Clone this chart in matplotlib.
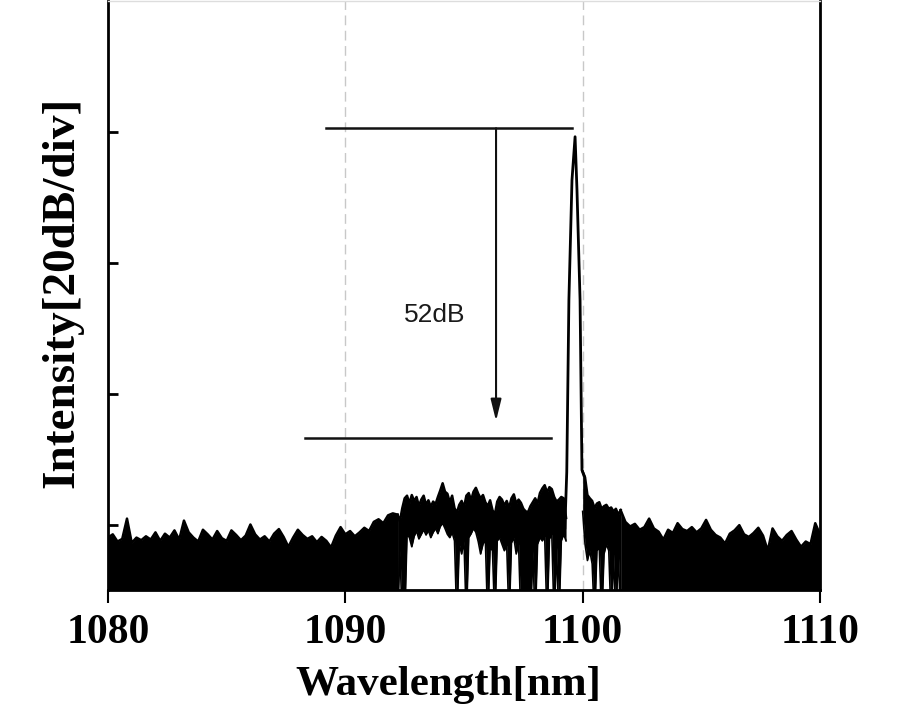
import matplotlib
matplotlib.use("Agg")
import matplotlib.pyplot as plt
import numpy as np

# ---------------- data ----------------
grid_step = 0.1  # nm, sampling used when reading the picture
floor_db = -95.0  # "below the display floor"

# Noise floor left of the signal band (0.2 nm samples from 1080.0 nm), dB
noise_left_start = 1080.0
noise_left = [-82.0, -81.5, -82.6, -82.2, -79.1, -82.8, -82.0, -82.4, -81.8, -82.3,
              -81.2, -82.5, -81.4, -82.0, -80.9, -82.3, -79.4, -81.2, -82.0, -82.6,
              -80.8, -81.5, -82.3, -81.0, -82.1, -82.5, -80.9, -81.6, -82.4, -81.7,
              -80.0, -81.5, -82.3, -81.8, -82.6, -81.4, -80.7, -81.9, -83.4, -82.0,
              -80.8, -81.6, -82.2, -81.8, -82.7, -81.9, -82.5, -83.5, -81.7, -80.4,
              -81.5, -81.0, -81.8, -81.2, -80.5, -81.0, -79.6, -79.2, -79.8, -78.6,
              -78.3, -78.5]

# Noise floor right of the signal band (0.2 nm samples from 1101.6 nm), dB
noise_right_start = 1101.6
noise_right = [-77.8, -79.6, -80.3, -79.9, -80.8, -80.4, -79.1, -80.6, -81.1, -82.3,
               -80.8, -81.3, -79.8, -80.7, -81.0, -80.4, -81.2, -80.6, -79.3, -80.8,
               -81.6, -82.0, -82.9, -81.4, -80.9, -80.1, -81.5, -81.9, -81.3, -80.5,
               -81.7, -84.0, -80.6, -81.8, -82.5, -81.6, -81.0, -82.3, -83.4, -82.6,
               -83.0, -79.8, -81.5]

# Modulated band left of the lasing line (0.1 nm samples from 1092.2 nm):
# upper and lower edge of the dense trace, dB
band_left_start = 1092.2
band_left_top = [-78.5, -79.5, -77.5, -76.0, -75.6, -76.8, -75.5, -76.4, -75.8, -77.2,
                 -76.2, -75.6, -77.0, -76.3, -77.3, -76.5, -76.9, -75.8, -74.8, -73.7,
                 -75.0, -75.3, -76.6, -75.6, -77.5, -78.2, -77.0, -76.4, -77.4, -75.6,
                 -75.2, -76.3, -75.0, -74.4, -75.3, -76.0, -75.5, -76.6, -77.2, -76.3,
                 -77.8, -78.5, -76.5, -75.8, -76.2, -77.1, -76.4, -77.5, -76.0, -75.4,
                 -76.8, -76.2, -76.7, -77.6, -78.0, -78.1, -77.2, -76.6, -76.0, -76.8,
                 -75.2, -74.5, -74.0, -75.1, -74.3, -74.6, -75.8, -76.5, -76.2, -75.8,
                 -76.0, -79.0]
band_left_bottom = [-95.0, -83.9, -95.0, -95.0, -81.5, -82.0, -83.4, -81.8, -81.0, -82.2,
                    -81.5, -80.8, -81.6, -80.9, -82.0, -81.2, -80.6, -81.4, -80.3, -79.8,
                    -80.6, -81.5, -82.0, -81.2, -82.5, -95.0, -83.0, -84.5, -82.5, -95.0,
                    -82.0, -81.4, -80.6, -81.2, -82.6, -84.5, -83.0, -82.3, -95.0, -83.5,
                    -84.0, -95.0, -82.5, -82.0, -83.0, -84.0, -83.2, -95.0, -82.8, -82.0,
                    -84.5, -83.0, -95.0, -95.0, -95.0, -95.0, -95.0, -84.0, -95.0, -83.0,
                    -82.0, -82.5, -81.8, -95.0, -82.2, -81.5, -95.0, -83.5, -95.0, -82.5,
                    -81.5, -82.5]

# Modulated band right of the lasing line (0.1 nm samples from 1100.0 nm), dB
band_right_start = 1100.0
band_right_top = [-71.9, -72.8, -75.5, -76.0, -76.4, -77.5, -76.8, -76.6, -77.6, -77.2,
                  -77.0, -77.6, -77.4, -78.0, -77.6, -78.5, -77.8]
band_right_bottom = [-78.0, -83.0, -85.5, -84.0, -86.0, -95.0, -84.0, -83.5, -95.0, -84.5,
                     -83.0, -84.0, -95.0, -84.5, -95.0, -84.0, -95.0]

# Lasing line
peak_wl = [1099.25, 1099.33, 1099.42, 1099.55, 1099.68, 1099.76, 1099.89, 1099.97, 1100.05]
peak_db = [-80.5, -72.0, -45.7, -27.4, -20.8, -28.9, -45.7, -71.7, -72.5]

# Annotation (extinction-ratio marker)
top_line_wl = [1089.19, 1099.55]
top_line_db = -19.5
floor_line_wl = [1088.30, 1098.67]
floor_line_db = -66.8
arrow_wl = 1096.35
arrow_tip_db = -64.2
ratio_label = "52dB"
ratio_label_pos = (1093.78, -48.0)

x_ticks = [1080, 1090, 1100, 1110]
y_ticks = [-80, -60, -40, -20]
x_label = "Wavelength[nm]"
y_label = "Intensity[20dB/div]"

# ---------------- plot ----------------
serif = ["Liberation Serif", "DejaVu Serif"]
fig = plt.figure(figsize=(9.15, 7.2), dpi=100)
ax = fig.add_axes([108 / 915, 130 / 720, 712 / 915, 589.5 / 720])
ax.set_xlim(1080, 1110)
ax.set_ylim(-90, 0)

for g in (1090, 1100):
    ax.axvline(g, color="#c8c8c8", lw=1.0, ls=(0, (7, 4)), zorder=0)

wl_left = noise_left_start + 0.2 * np.arange(len(noise_left))
wl_right = noise_right_start + 0.2 * np.arange(len(noise_right))
for wl, vals in ((wl_left, noise_left), (wl_right, noise_right)):
    ax.fill_between(wl, vals, floor_db, color="black", lw=0, zorder=2)
    ax.plot(wl, vals, color="black", lw=1.8, zorder=3)

for start, top, bottom in ((band_left_start, band_left_top, band_left_bottom),
                           (band_right_start, band_right_top, band_right_bottom)):
    wl = start + grid_step * np.arange(len(top))
    ax.fill_between(wl, top, bottom, color="black", lw=0, zorder=2)
    ax.plot(wl, top, color="black", lw=1.8, zorder=3)
    ax.plot(wl, bottom, color="black", lw=1.2, zorder=3)

ax.plot(peak_wl, peak_db, color="black", lw=2.0, zorder=3)

ax.plot(top_line_wl, [top_line_db] * 2, color="#111111", lw=1.8, zorder=4)
ax.plot(floor_line_wl, [floor_line_db] * 2, color="#111111", lw=1.8, zorder=4)
ax.annotate("", xy=(arrow_wl, arrow_tip_db), xytext=(arrow_wl, top_line_db),
            arrowprops=dict(arrowstyle="-|>,head_length=0.65,head_width=0.16",
                            mutation_scale=20, color="#111111", lw=1.5,
                            shrinkA=0, shrinkB=0), zorder=4)
ax.text(*ratio_label_pos, ratio_label, ha="center", va="center",
        fontsize=19, family=["Liberation Sans", "DejaVu Sans"], color="#1a1a1a")

for side in ("left", "right", "bottom"):
    ax.spines[side].set_linewidth(2.0)
    ax.spines[side].set_color("black")
ax.spines["top"].set_color("#dddddd")
ax.spines["top"].set_linewidth(1.0)

ax.set_xticks(x_ticks)
ax.set_xticklabels([str(t) for t in x_ticks], family=serif, fontweight="bold", fontsize=30)
ax.set_yticks(y_ticks)
ax.set_yticklabels([])
ax.tick_params(axis="x", direction="out", length=9, width=1.5, pad=8)
ax.tick_params(axis="y", direction="in", length=7, width=2, left=True, right=False)

fig.text(448.5 / 915, 1 - 685 / 720, x_label, ha="center", va="center",
         family=serif, fontweight="bold", fontsize=31)
fig.text(62 / 915, 1 - 292 / 720, y_label, ha="center", va="center", rotation=90,
         family=serif, fontweight="bold", fontsize=34)

fig.savefig("out.png", dpi=100)
